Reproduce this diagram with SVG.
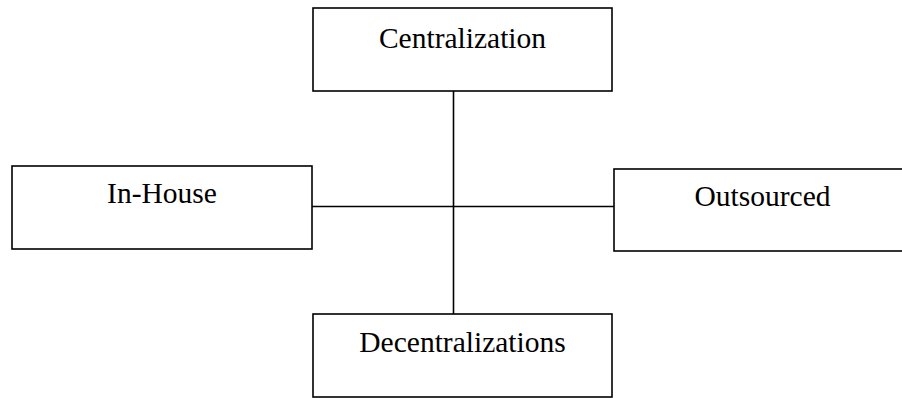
<svg xmlns="http://www.w3.org/2000/svg" width="902" height="398" viewBox="0 0 902 398">
  <style>
    .box { fill: #ffffff; stroke: #000000; stroke-width: 1.6; }
    .label { font-family: "Liberation Serif", "Times New Roman", serif; font-size: 29.5px; fill: #000000; text-anchor: middle; }
    .link { stroke: #000000; stroke-width: 1.6; fill: none; }
  </style>
  <rect width="902" height="398" fill="#ffffff"/>
  <g id="connectors">
    <line class="link" x1="453.5" y1="91" x2="453.5" y2="314"/>
    <line class="link" x1="312" y1="206.5" x2="614" y2="206.5"/>
  </g>
  <g id="centralization">
    <rect class="box" x="313" y="8" width="299" height="83"/>
    <text class="label" x="462.5" y="48">Centralization</text>
  </g>
  <g id="in-house">
    <rect class="box" x="12" y="166" width="300" height="83"/>
    <text class="label" x="162" y="203">In-House</text>
  </g>
  <g id="outsourced">
    <rect class="box" x="614" y="169" width="297" height="82"/>
    <text class="label" x="762.5" y="206">Outsourced</text>
  </g>
  <g id="decentralizations">
    <rect class="box" x="313" y="314" width="299" height="83"/>
    <text class="label" x="462.5" y="352">Decentralizations</text>
  </g>
</svg>
